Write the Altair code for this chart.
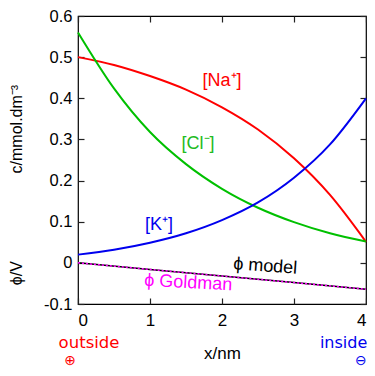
import altair as alt
import pandas as pd

# --- data ---
grid_x = [0.0, 0.5, 1.0, 1.5, 2.0, 2.5, 3.0, 3.5, 4.0]
na_y = [0.5, 0.481, 0.454, 0.421, 0.378, 0.324, 0.254, 0.165, 0.051]
cl_y = [0.56, 0.424, 0.318, 0.24, 0.18, 0.134, 0.099, 0.072, 0.052]
k_y = [0.02, 0.032, 0.049, 0.072, 0.104, 0.147, 0.207, 0.288, 0.40]
phi_x = [0.0, 1.0, 2.0, 3.0, 4.0]
phi_model = [0.0, -0.016, -0.032, -0.048, -0.064]
phi_goldman = [0.0, -0.016, -0.032, -0.048, -0.064]

x_ticks = [0, 1, 2, 3, 4]
y_ticks = [-0.1, 0.0, 0.1, 0.2, 0.3, 0.4, 0.5, 0.6]

W, H = 288, 288
FONT = "Liberation Sans"

conc = pd.DataFrame(
    [{"x": a, "y": b, "ion": "Na", "o": i} for i, (a, b) in enumerate(zip(grid_x, na_y))]
    + [{"x": a, "y": b, "ion": "Cl", "o": i} for i, (a, b) in enumerate(zip(grid_x, cl_y))]
    + [{"x": a, "y": b, "ion": "K", "o": i} for i, (a, b) in enumerate(zip(grid_x, k_y))]
)
phi_df = pd.DataFrame({"x": phi_x, "model": phi_model, "goldman": phi_goldman})

xs = alt.Scale(domain=[0, 4], nice=False, zero=False)
ys = alt.Scale(domain=[-0.1, 0.6], nice=False, zero=False)

tick_axis = dict(labels=False, ticks=True, tickSize=6, tickColor="#222222", tickWidth=1.2,
                 domain=False, grid=False, title=None)

label_y_expr = ("datum.value < 0 ? '-' + format(-datum.value, '.1f') : "
                "(datum.value == 0 ? '0' : format(datum.value, '.1f'))")

lines = alt.Chart(conc).mark_line(strokeWidth=2, interpolate="monotone").encode(
    x=alt.X("x:Q", scale=xs, axis=alt.Axis(
        orient="bottom", values=x_ticks, ticks=False, tickSize=0, domain=False, grid=False,
        labelFont=FONT, labelFontSize=17, labelColor="black", labelPadding=8,
        title="x/nm", titleFont=FONT, titleFontSize=17, titleFontWeight="normal",
        titleColor="black", titleY=41, titleBaseline="top")),
    y=alt.Y("y:Q", scale=ys, axis=alt.Axis(
        orient="left", values=y_ticks, ticks=False, tickSize=0, domain=False, grid=False,
        labelFont=FONT, labelFontSize=16.5, labelColor="black", labelPadding=6,
        labelExpr=label_y_expr, title=None)),
    color=alt.Color("ion:N", scale=alt.Scale(domain=["Na", "Cl", "K"],
                                             range=["#ff0000", "#00c000", "#0000ee"]),
                    legend=None),
    order="o:Q",
)

phi_line = alt.Chart(phi_df).mark_line(color="black", strokeWidth=1.5).encode(
    x=alt.X("x:Q", scale=xs, axis=alt.Axis(orient="top", offset=-H, values=x_ticks, **tick_axis)),
    y=alt.Y("model:Q", scale=ys, axis=alt.Axis(orient="right", offset=-W, values=y_ticks, **tick_axis)),
)

gold_line = alt.Chart(phi_df).mark_line(color="#ff00ff", strokeWidth=1.5, strokeDash=[2, 2]).encode(
    x=alt.X("x:Q", scale=xs, axis=alt.Axis(orient="bottom", offset=-H, values=x_ticks, **tick_axis)),
    y=alt.Y("goldman:Q", scale=ys, axis=alt.Axis(orient="left", offset=-W, values=y_ticks, **tick_axis)),
)

# annotations
lab_text = ["[Na\u207a]", "[Cl\u207b]", "[K\u207a]"]
lab_x = [2.0, 1.667, 1.125]
lab_y = [0.441, 0.289, 0.093]
lab_col = ["#ff0000", "#22bb22", "#0000ee"]
ann = pd.DataFrame({"t": lab_text, "x": lab_x, "y": lab_y, "c": lab_col})
ions_txt = alt.Chart(ann).mark_text(font=FONT, fontSize=18, align="center", baseline="middle").encode(
    x=alt.X("x:Q", scale=xs, axis=None), y=alt.Y("y:Q", scale=ys, axis=None),
    text="t:N", color=alt.Color("c:N", scale=None))

phi_lab = pd.DataFrame({"t": ["\u03d5 model"], "x": [2.6], "y": [-0.009]})
phi_txt = alt.Chart(phi_lab).mark_text(font=FONT, fontSize=18, angle=4, color="black",
                                       align="center", baseline="middle").encode(
    x=alt.X("x:Q", scale=xs, axis=None), y=alt.Y("y:Q", scale=ys, axis=None), text="t:N")

gold_lab = pd.DataFrame({"t": ["\u03d5 Goldman"], "x": [1.53], "y": [-0.049]})
gold_txt = alt.Chart(gold_lab).mark_text(font=FONT, fontSize=18, angle=3, color="#ff00ff",
                                         align="center", baseline="middle").encode(
    x=alt.X("x:Q", scale=xs, axis=None), y=alt.Y("y:Q", scale=ys, axis=None), text="t:N")

side_text = ["outside", "inside"]
side_x = [0.153, 3.36]
side_y = [-0.194, -0.194]
out_txt = alt.Chart(pd.DataFrame({"t": [side_text[0]], "x": [side_x[0]], "y": [side_y[0]]})).mark_text(
    font="DejaVu Sans", fontSize=16.5, color="#ff0000", align="center", baseline="middle").encode(
    x=alt.X("x:Q", scale=xs, axis=None), y=alt.Y("y:Q", scale=ys, axis=None), text="t:N")
in_txt = alt.Chart(pd.DataFrame({"t": [side_text[1]], "x": [side_x[1]], "y": [side_y[1]]})).mark_text(
    font="DejaVu Sans", fontSize=16, color="#0000ee", align="left", baseline="middle").encode(
    x=alt.X("x:Q", scale=xs, axis=None), y=alt.Y("y:Q", scale=ys, axis=None), text="t:N")

sign_lab = pd.DataFrame({"t": ["\u2295", "\u2296"], "x": [-0.11, 3.93], "y": [-0.238, -0.238],
                         "c": ["#ff0000", "#0000ee"]})
sign_txt = alt.Chart(sign_lab).mark_text(font="DejaVu Sans", fontSize=14, align="center",
                                         baseline="middle").encode(
    x=alt.X("x:Q", scale=xs, axis=None), y=alt.Y("y:Q", scale=ys, axis=None),
    text="t:N", color=alt.Color("c:N", scale=None))

ytitle = pd.DataFrame({"t": ["c/mmol.dm\u207b\u00b3", "\u03d5/V"], "x": [-0.847, -0.847],
                       "y": [0.325, -0.025]})
ytitle_txt = alt.Chart(ytitle).mark_text(font=FONT, fontSize=16, angle=270, color="black",
                                         align="center", baseline="middle").encode(
    x=alt.X("x:Q", scale=xs, axis=None), y=alt.Y("y:Q", scale=ys, axis=None), text="t:N")

chart = alt.layer(
    lines, phi_line, gold_line, ions_txt, phi_txt, gold_txt, out_txt, in_txt, sign_txt, ytitle_txt
).resolve_axis(x="independent", y="independent").properties(
    width=W, height=H,
    autosize=alt.AutoSizeParams(type="none"),
    padding={"left": 70, "top": 8, "right": 1, "bottom": 64},
).configure_view(stroke="black", strokeWidth=1.2)

chart.save("out.html", embed_options={"renderer": "svg", "actions": False})
